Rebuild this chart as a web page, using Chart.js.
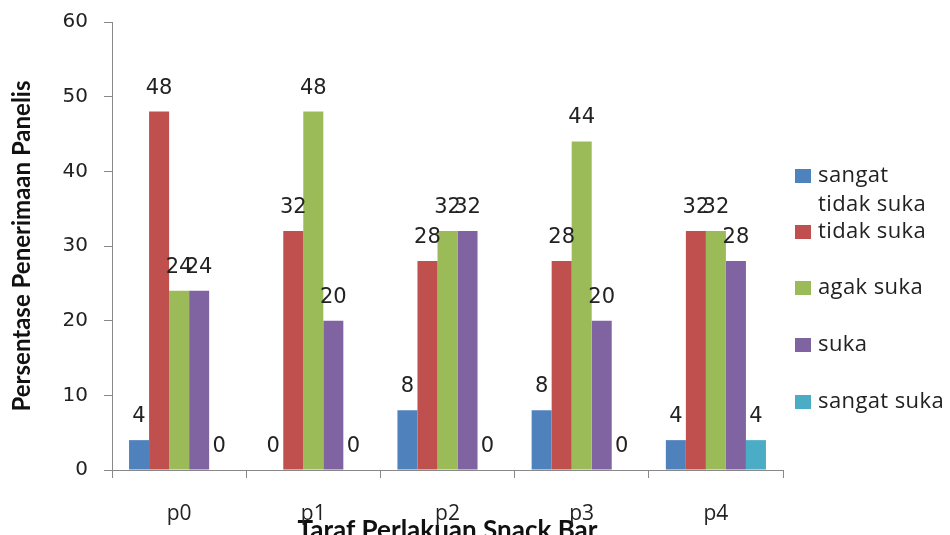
<!DOCTYPE html>
<html>
<head>
<meta charset="utf-8">
<script src="https://cdn.jsdelivr.net/npm/chart.js@4.4.1/dist/chart.umd.min.js"></script>
<style>
  html, body { margin: 0; padding: 0; background: #fff; overflow: hidden; }
  #wrap { width: 950px; height: 535px; }
</style>
</head>
<body>
<div id="wrap"><canvas id="sensoryChart" width="950" height="535"></canvas></div>
<script>
// Data
const categories = ['p0', 'p1', 'p2', 'p3', 'p4'];
const seriesNames = [['sangat', 'tidak suka'], 'tidak suka', 'agak suka', 'suka', 'sangat suka'];
const sangatTidakSuka = [4, 0, 8, 8, 4];
const tidakSuka = [48, 32, 28, 28, 32];
const agakSuka = [24, 48, 32, 44, 32];
const suka = [24, 20, 32, 20, 28];
const sangatSuka = [0, 0, 0, 0, 4];
const yTicks = [0, 10, 20, 30, 40, 50, 60];

const colors = ['#4F81BD', '#C0504D', '#9BBB59', '#8064A2', '#4BACC6'];
const numFont = 'DejaVu Sans';
const textFont = 'Open Sans';
const titleFont = 'Lato';

// Draws the value above every bar
const valueLabels = {
    id: 'valueLabels',
    afterDatasetsDraw(chart) {
        const ctx = chart.ctx;
        ctx.save();
        ctx.font = '21px "' + numFont + '"';
        ctx.fillStyle = '#222';
        ctx.textAlign = 'center';
        ctx.textBaseline = 'alphabetic';
        chart.data.datasets.forEach((ds, i) => {
            chart.getDatasetMeta(i).data.forEach((bar, j) => {
                ctx.fillText(String(ds.data[j]), bar.x, bar.y - 18);
            });
        });
        ctx.restore();
    }
};

// Legend on the right, the first entry wraps to two lines
const sideLegend = {
    id: 'sideLegend',
    afterDraw(chart) {
        const ctx = chart.ctx;
        const x = chart.chartArea.right + 12;
        const rows = [176, 232, 288, 345, 402];
        ctx.save();
        ctx.font = '22px "' + textFont + '"';
        ctx.letterSpacing = '0.4px';
        ctx.textBaseline = 'middle';
        chart.data.datasets.forEach((ds, i) => {
            const y = rows[i];
            ctx.fillStyle = ds.backgroundColor;
            ctx.fillRect(x, y - 7, 16, 14);
            ctx.fillStyle = '#222';
            const lines = Array.isArray(ds.label) ? ds.label : [ds.label];
            lines.forEach((t, k) => ctx.fillText(t, x + 23, y + k * 29));
        });
        ctx.restore();
    }
};

document.addEventListener('DOMContentLoaded', function () {
    const ctx = document.getElementById('sensoryChart').getContext('2d');
    const values = [sangatTidakSuka, tidakSuka, agakSuka, suka, sangatSuka];

    new Chart(ctx, {
        type: 'bar',
        data: {
            labels: categories,
            datasets: values.map((v, i) => ({
                label: seriesNames[i],
                data: v,
                backgroundColor: colors[i],
                borderWidth: 0,
                categoryPercentage: 0.746,
                barPercentage: 1.0
            }))
        },
        options: {
            responsive: false,
            animation: false,
            layout: { padding: { top: 22, right: 167, bottom: 0, left: 6 } },
            plugins: {
                legend: { display: false },
                tooltip: { enabled: false }
            },
            scales: {
                x: {
                    grid: { display: true, drawOnChartArea: false, offset: true, tickLength: 8, color: '#888' },
                    border: { color: '#888' },
                    ticks: { color: '#222', font: { family: textFont, size: 21 }, padding: 23 },
                    title: {
                        display: true,
                        text: 'Taraf Perlakuan Snack Bar',
                        color: '#111',
                        font: { family: titleFont, size: 26, weight: 'bold' },
                        padding: { top: 0, bottom: -11 }
                    },
                    afterFit: s => { s.height = 65; }
                },
                y: {
                    min: 0,
                    max: 60,
                    afterBuildTicks: s => { s.ticks = yTicks.map(v => ({ value: v })); },
                    grid: { display: true, drawOnChartArea: false, tickLength: 8, color: '#888' },
                    border: { color: '#888' },
                    ticks: { color: '#222', font: { family: numFont, size: 20 }, padding: 16 },
                    title: {
                        display: true,
                        text: 'Persentase Penerimaan Panelis',
                        color: '#111',
                        font: { family: titleFont, size: 24, weight: 'bold' },
                        padding: { top: 2, bottom: 0 }
                    },
                    afterFit: s => { s.width = 106; s.paddingTop = 0; s.paddingBottom = 0; }
                }
            }
        },
        plugins: [valueLabels, sideLegend]
    });
});
</script>
</body>
</html>
